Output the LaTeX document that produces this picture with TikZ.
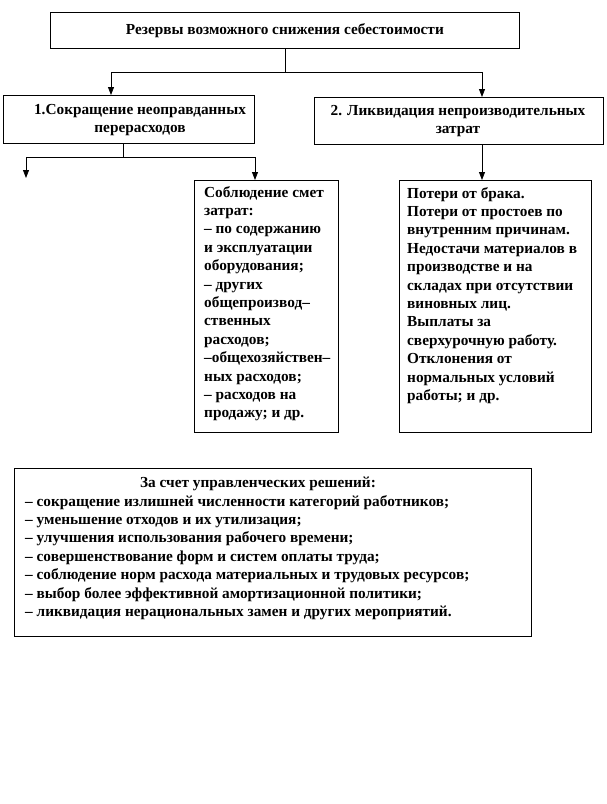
\documentclass[tikz,border=0pt]{standalone}
\usepackage{fontspec}
\setmainfont{Liberation Serif}
\usetikzlibrary{arrows.meta}
\begin{document}
\begin{tikzpicture}[x=1pt,y=-1pt,
  box/.style={draw, line width=0.8pt, inner sep=0pt, anchor=north west},
  txt/.style={inner sep=0pt, font=\bfseries\fontsize{15.3}{18.4}\selectfont},
  conn/.style={line width=0.8pt},
  arr/.style={line width=0.8pt, -{Triangle[length=8pt,width=6pt]}}]
\fill[white] (0,0) rectangle (606,804);
\useasboundingbox (0,0) rectangle (606,804);
% boxes
\node[box, minimum width=469pt, minimum height=36pt] (top) at (50,12) {};
\node[box, minimum width=251pt, minimum height=48pt] (b1) at (3,95) {};
\node[box, minimum width=289pt, minimum height=47pt] (b2) at (314,97) {};
\node[box, minimum width=144pt, minimum height=252pt] (b3) at (194,180) {};
\node[box, minimum width=192pt, minimum height=252pt] (b4) at (399,180) {};
\node[box, minimum width=517pt, minimum height=168pt] (b5) at (14,468) {};
% texts
\node[txt] (toptxt) at (top.center) {Резервы возможного снижения себестоимости};
\node[txt, align=center] (b1txt) at (140,120) {1.Сокращение неоправданных\\перерасходов};
\node[txt, align=center] (b2txt) at (458,121) {2. Ликвидация непроизводительных\\затрат};
\node[txt, align=left, anchor=north west] (b3txt) at (204,186) {Соблюдение смет\\затрат:\\– по содержанию\\и эксплуатации\\оборудования;\\– других\\общепроизвод–\\ственных\\расходов;\\–общехозяйствен–\\ных расходов;\\– расходов на\\продажу; и др.};
\node[txt, align=left, anchor=north west] (b4txt) at (407,187) {Потери от брака.\\Потери от простоев по\\внутренним причинам.\\Недостачи материалов в\\производстве и на\\складах при отсутствии\\виновных лиц.\\Выплаты за\\сверхурочную работу.\\Отклонения от\\нормальных условий\\работы; и др.};
\node[txt] (b5title) at (258,484) {За счет управленческих решений:};
\node[txt, align=left, anchor=north west] (b5txt) at (25,495) {– сокращение излишней численности категорий работников;\\– уменьшение отходов и их утилизация;\\– улучшения использования рабочего времени;\\– совершенствование форм и систем оплаты труда;\\– соблюдение норм расхода материальных и трудовых ресурсов;\\– выбор более эффективной амортизационной политики;\\– ликвидация нерациональных замен и других мероприятий.};
% connectors
\coordinate (ylev1) at (0,72);
\coordinate (ylev2) at (0,157);
\coordinate (xa) at (111,0);
\coordinate (xb) at (482,0);
\coordinate (xc) at (123,0);
\coordinate (xd) at (255,0);
\coordinate (loose) at (26,178);
\coordinate (split1) at (top.south |- ylev1);
\coordinate (split2) at (b1.south -| xc);
\coordinate (split3) at (split2 |- ylev2);
\draw[conn] (top.south) -- (split1);
\draw[arr] (split1) -| (b1.north -| xa);
\draw[arr] (split1) -| (b2.north -| xb);
\draw[conn] (split2) -- (split3);
\draw[arr] (split3) -| (loose);
\draw[arr] (split3) -| (b3.north -| xd);
\draw[arr] (b2.south -| xb) -- (b4.north -| xb);
\end{tikzpicture}
\end{document}
